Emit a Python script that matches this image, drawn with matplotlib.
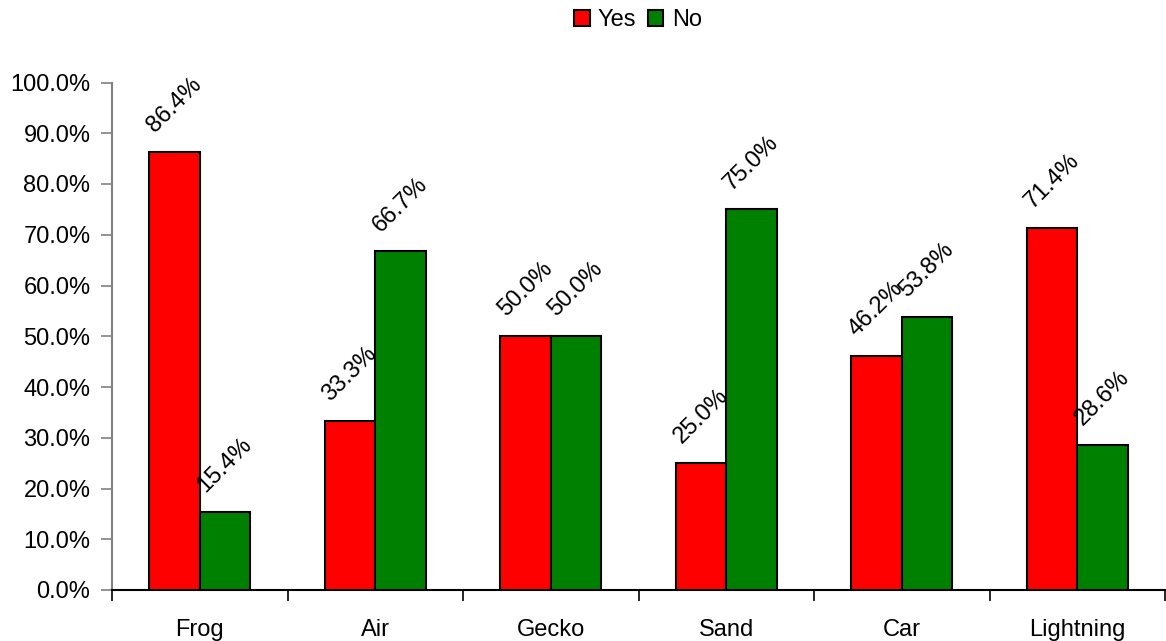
import matplotlib
matplotlib.use("Agg")
import matplotlib.pyplot as plt
import numpy as np
from matplotlib.ticker import FuncFormatter, MultipleLocator

categories = ["Frog", "Air", "Gecko", "Sand", "Car", "Lightning"]
yes_values = [86.4, 33.3, 50.0, 25.0, 46.2, 71.4]
no_values = [15.4, 66.7, 50.0, 75.0, 53.8, 28.6]
series_names = ["Yes", "No"]
series_colors = ["#ff0000", "#008000"]

plt.rcParams["font.family"] = ["Liberation Sans", "DejaVu Sans"]
FS = 17

fig = plt.figure(figsize=(11.66, 6.41), dpi=100)
W, H = 1166, 641
ax = fig.add_axes([112 / W, 51 / H, (1165 - 112) / W, (590 - 82.5) / H])

x = np.arange(len(categories))
bw = 0.288
bars = []
for i, (vals, name, col) in enumerate(zip([yes_values, no_values], series_names, series_colors)):
    offs = (i - 0.5) * bw
    b = ax.bar(x + offs, vals, width=bw, color=col, edgecolor="black",
               linewidth=1.5, label=name, zorder=3)
    bars.append(b)
    for xi, v in zip(x + offs, vals):
        ax.annotate(f"{v:.1f}%", (xi, v), xytext=(0, 11), textcoords="offset points",
                    ha="center", va="bottom", rotation=45, fontsize=FS, zorder=4)

ax.set_xlim(-0.5, len(categories) - 0.5)
ax.set_ylim(0, 100)
ax.yaxis.set_major_locator(MultipleLocator(10))
ax.yaxis.set_major_formatter(FuncFormatter(lambda v, p: f"{v:.1f}%"))
ax.tick_params(axis="y", labelsize=FS, length=8, width=1.2, color="#808080",
               direction="out", pad=7.5)

# categories labelled in the middle, tick marks on the boundaries
ax.set_xticks(x)
ax.set_xticklabels(categories, fontsize=FS)
ax.tick_params(axis="x", which="major", length=0, pad=21)
ax.set_xticks(np.arange(-0.5, len(categories)), minor=True)
ax.tick_params(axis="x", which="minor", length=8, width=1.2, color="black", direction="out")

for s in ["top", "right"]:
    ax.spines[s].set_visible(False)
ax.spines["left"].set_color("#808080")
ax.spines["left"].set_linewidth(1.5)
ax.spines["bottom"].set_color("black")
ax.spines["bottom"].set_linewidth(1.5)

fig.legend(handles=bars, labels=series_names, loc="center", bbox_to_anchor=(638 / W, 1 - 20 / H),
           ncol=2, frameon=False, fontsize=FS, handlelength=0.65, handleheight=0.65,
           handletextpad=0.35, columnspacing=0.5, borderaxespad=0)

fig.savefig("out.png", dpi=100)
